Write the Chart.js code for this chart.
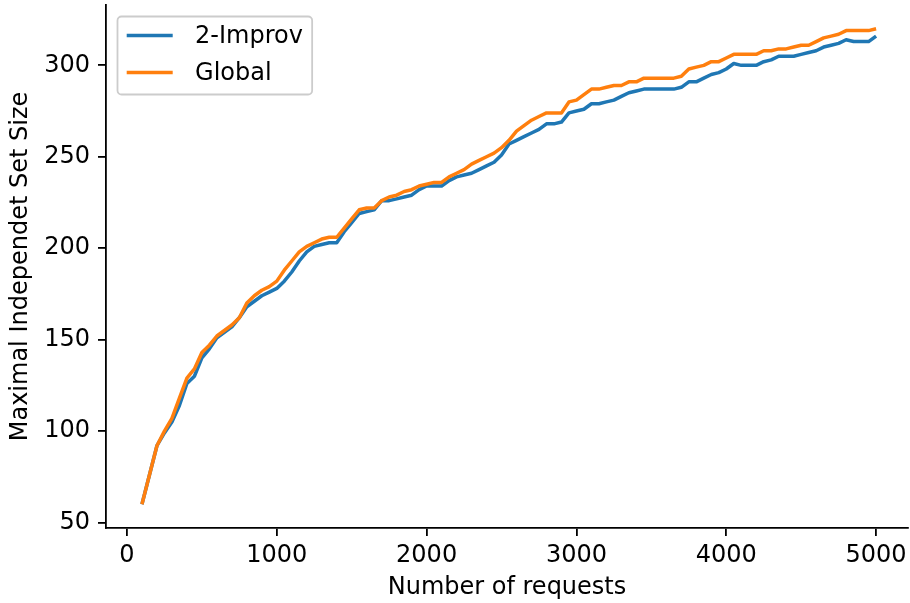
<!DOCTYPE html>
<html>
<head>
<meta charset="utf-8">
<script src="https://cdn.jsdelivr.net/npm/chart.js@4.4.1/dist/chart.umd.min.js"></script>
<style>
  body { margin: 0; background: #fff; }
  #wrap { width: 910px; height: 603px; }
</style>
</head>
<body>
<div id="wrap"><canvas id="mis-chart" width="910" height="603"></canvas></div>
<script>
// number of requests (x)
var requests = [
  100, 150, 200, 250, 300, 350, 400, 450, 500, 550,
  600, 650, 700, 750, 800, 850, 900, 950, 1000, 1050,
  1100, 1150, 1200, 1250, 1300, 1350, 1400, 1450, 1500, 1550,
  1600, 1650, 1700, 1750, 1800, 1850, 1900, 1950, 2000, 2050,
  2100, 2150, 2200, 2250, 2300, 2350, 2400, 2450, 2500, 2550,
  2600, 2650, 2700, 2750, 2800, 2850, 2900, 2950, 3000, 3050,
  3100, 3150, 3200, 3250, 3300, 3350, 3400, 3450, 3500, 3550,
  3600, 3650, 3700, 3750, 3800, 3850, 3900, 3950, 4000, 4050,
  4100, 4150, 4200, 4250, 4300, 4350, 4400, 4450, 4500, 4550,
  4600, 4650, 4700, 4750, 4800, 4850, 4900, 4950, 5000
];

var improv2 = [
  60, 76, 92, 99, 105, 114, 126, 130, 140, 145,
  151, 154, 157, 162, 168, 171, 174, 176, 178, 182,
  187, 193, 198, 201, 202, 203, 203, 209, 214, 219,
  220, 221, 226, 226, 227, 228, 229, 232, 234, 234,
  234, 237, 239, 240, 241, 243, 245, 247, 251, 257,
  259, 261, 263, 265, 268, 268, 269, 274, 275, 276,
  279, 279, 280, 281, 283, 285, 286, 287, 287, 287,
  287, 287, 288, 291, 291, 293, 295, 296, 298, 301,
  300, 300, 300, 302, 303, 305, 305, 305, 306, 307,
  308, 310, 311, 312, 314, 313, 313, 313, 316
];

var globalOpt = [
  60, 76, 92, 100, 107, 118, 129, 134, 143, 147,
  152, 155, 158, 162, 170, 174, 177, 179, 182, 188,
  193, 198, 201, 203, 205, 206, 206, 211, 216, 221,
  222, 222, 226, 228, 229, 231, 232, 234, 235, 236,
  236, 239, 241, 243, 246, 248, 250, 252, 255, 259,
  264, 267, 270, 272, 274, 274, 274, 280, 281, 284,
  287, 287, 288, 289, 289, 291, 291, 293, 293, 293,
  293, 293, 294, 298, 299, 300, 302, 302, 304, 306,
  306, 306, 306, 308, 308, 309, 309, 310, 311, 311,
  313, 315, 316, 317, 319, 319, 319, 319, 320
];

var xTicks = [0, 1000, 2000, 3000, 4000, 5000];
var yTicks = [50, 100, 150, 200, 250, 300];

var FONT = "'DejaVu Sans', sans-serif";
var FS = 24;

function toPoints(ys) {
  return requests.map((x, i) => ({ x: x, y: ys[i] }));
}

// legend box drawn inside the axes, like matplotlib's upper left legend
var boxLegend = {
  id: "boxLegend",
  afterDraw(chart) {
    const ctx = chart.ctx;
    const area = chart.chartArea;
    const items = chart.data.datasets;
    ctx.save();
    ctx.font = FS + "px " + FONT;
    let textW = 0;
    items.forEach(ds => { textW = Math.max(textW, ctx.measureText(ds.label).width); });
    const x0 = area.left + 11.5, y0 = area.top + 11.5;
    const pad = 9.2, handle = 46, gap = 22.4, rowH = 37;
    const w = pad * 2 + handle + gap + textW;
    const h = 78;
    ctx.beginPath();
    ctx.roundRect(x0, y0, w, h, 4);
    ctx.fillStyle = "rgba(255,255,255,0.8)";
    ctx.fill();
    ctx.strokeStyle = "#cccccc";
    ctx.lineWidth = 1.8;
    ctx.stroke();
    items.forEach((ds, i) => {
      const cy = y0 + 19 + i * rowH;
      ctx.beginPath();
      ctx.moveTo(x0 + pad, cy);
      ctx.lineTo(x0 + pad + handle, cy);
      ctx.strokeStyle = ds.borderColor;
      ctx.lineWidth = 3.5;
      ctx.stroke();
      ctx.fillStyle = "#000";
      ctx.textBaseline = "middle";
      ctx.fillText(ds.label, x0 + pad + handle + gap, cy + 1);
    });
    ctx.restore();
  }
};

var ctx = document.getElementById("mis-chart").getContext("2d");
var misChart = new Chart(ctx, {
  type: "line",
  data: {
    datasets: [
      {
        label: "2-Improv",
        data: toPoints(improv2),
        borderColor: "#1f77b4",
        borderWidth: 3.5,
        pointRadius: 0,
        tension: 0,
        borderJoinStyle: "round",
        order: 1,
      },
      {
        label: "Global",
        data: toPoints(globalOpt),
        borderColor: "#ff7f0e",
        borderWidth: 3.5,
        pointRadius: 0,
        tension: 0,
        borderJoinStyle: "round",
        order: 0,
      }
    ],
  },
  options: {
    responsive: false,
    animation: false,
    devicePixelRatio: 1,
    layout: { padding: { left: 0, right: 2, top: 5, bottom: 0 } },
    plugins: {
      legend: { display: false },
      tooltip: { enabled: false },
    },
    scales: {
      x: {
        type: "linear",
        min: -140,
        max: 5213,
        afterBuildTicks: scale => { scale.ticks = xTicks.map(v => ({ value: v })); },
        afterFit: scale => {
          scale.height = 75;
          scale.paddingLeft = 0;
          scale.paddingRight = 0;
        },
        grid: { drawOnChartArea: false, drawTicks: true, tickLength: 8, color: "#000", lineWidth: 1.8 },
        border: { display: true, color: "#000", width: 1.8 },
        ticks: {
          color: "#000",
          font: { family: FONT, size: FS },
          padding: 5,
          maxRotation: 0,
          callback: v => String(v),
        },
        title: {
          display: true,
          text: "Number of requests",
          color: "#000",
          font: { family: FONT, size: FS },
          padding: { top: 0, bottom: 1 },
        },
      },
      y: {
        type: "linear",
        min: 47,
        max: 333,
        afterBuildTicks: scale => { scale.ticks = yTicks.map(v => ({ value: v })); },
        afterFit: scale => {
          scale.width = 106;
          scale.paddingTop = 0;
          scale.paddingBottom = 0;
        },
        grid: { drawOnChartArea: false, drawTicks: true, tickLength: 8, color: "#000", lineWidth: 1.8 },
        border: { display: true, color: "#000", width: 1.8 },
        ticks: {
          color: "#000",
          font: { family: FONT, size: FS },
          padding: 8,
          callback: v => String(v),
        },
        title: {
          display: true,
          text: "Maximal Independet Set Size",
          color: "#000",
          font: { family: FONT, size: FS },
          padding: { top: 6, bottom: 0 },
        },
      },
    },
  },
  plugins: [boxLegend],
});
</script>
</body>
</html>
